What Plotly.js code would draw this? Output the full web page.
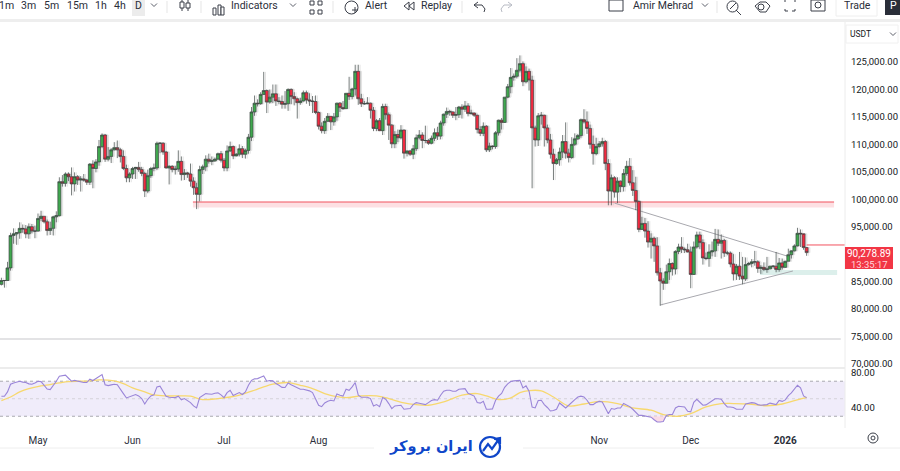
<!DOCTYPE html>
<html><head><meta charset="utf-8">
<script src="https://cdn.plot.ly/plotly-3.0.1.min.js"></script>
<style>html,body{margin:0;padding:0;background:#fff}#c{width:900px;height:471px}</style></head>
<body><div id="c"></div>
<script>
const firstDay = Date.UTC(2025,3,19);
const opens = [84500,85200,85200,87500,93400,93700,93900,94700,94600,93700,
95000,94200,94200,96500,96900,95900,94300,94700,96800,97000,
103200,102900,104600,104100,102800,104100,103500,103700,103500,103100,
106400,105600,106800,109600,111700,107300,107800,109000,109400,109000,
107800,105600,103900,104600,105600,105800,105400,104700,101500,104300,
105600,105700,110200,110200,108600,105700,106000,105400,105500,106900,
104500,104800,104600,103300,102100,100900,105400,105900,107300,106900,
107000,107300,108300,107100,105700,108800,109600,107900,108200,109200,
108200,108900,111300,115900,117500,117400,119100,119800,117700,118600,
119200,117900,117800,117300,117400,120000,118700,118300,117600,117900,
119400,118100,117900,117800,115800,113300,112500,114200,115100,114100,
115000,117500,116700,116500,119300,118700,120100,123300,118300,117400,
117400,117500,116200,112900,114300,112500,116900,115400,113500,110100,
111800,111200,112600,108400,108800,108200,109200,111200,111700,110700,
110700,110200,111100,112100,111500,113900,115500,116000,115900,115300,
115400,116800,116400,117000,115600,115700,115300,112700,112000,113300,
109000,109700,109600,112100,114400,114000,118600,120500,122200,122400,
123500,124700,121400,123300,121700,113000,110800,115200,115300,113000,
110800,108200,106500,107200,108600,110500,108400,107600,110000,111000,
111600,114500,114100,112900,110000,108300,109600,110100,110500,106500,
101500,103900,101300,103300,102300,104700,106000,103000,101600,99600,
94500,95600,94200,92200,92900,91500,86600,85100,84700,86800,
88300,87300,90500,91300,90900,90800,90400,86300,91300,93500,
92100,89300,89200,90400,90600,92700,92000,92500,90200,90200,
88200,86400,87800,86000,85500,88100,88300,88600,88600,87400,
87600,87200,87300,87800,87800,87200,88400,87600,88700,89900,
90600,91500,93800,93700,91200];
const highs = [85700,85300,88600,93900,94700,94000,95800,95400,95300,95600,
95500,95200,97400,97900,96900,96300,95900,97000,97800,104000,
104400,104900,104900,105800,104900,104400,104200,104600,103700,106600,
107100,107300,110800,112000,111900,109500,109300,110400,110700,109300,
108900,106300,104900,105900,105900,106800,105900,105000,105400,105900,
106500,110500,110400,110400,108800,106200,106200,106100,108900,107800,
105500,105000,106500,104000,103000,106100,106300,108000,108300,107800,
107600,108500,108800,107500,109800,110500,109800,108400,110000,109700,
109200,111900,116800,118900,118200,119500,123200,120000,120000,120900,
120900,118600,118900,119700,120200,120200,119500,118500,118500,119800,
119800,119300,118800,118900,116000,114000,114800,115700,115100,115700,
117600,117700,117900,119300,122300,120300,124500,124500,119200,117900,
118600,117600,116800,114600,114800,117400,117400,115800,113700,112400,
112700,113500,112700,108900,109000,109900,111800,112600,112200,113400,
111000,111600,112900,113200,114300,115600,116700,116300,116000,116800,
117000,117300,117900,117500,116300,115800,115400,113300,114000,113500,
110300,109800,112400,114500,114800,118600,121000,123900,122900,125700,
126200,125100,124200,123800,122500,113400,115700,115900,115400,113600,
111900,109200,107500,109400,111700,114000,109200,111300,112000,111900,
114700,116400,116000,113600,111600,111200,110600,111200,110800,107300,
104500,104200,104000,103400,105500,107000,107500,105300,104100,99800,
96800,96600,96000,93800,93200,93100,87500,85600,88100,89200,
88500,90700,91900,93100,91200,91900,91400,92300,94100,94100,
92700,90300,91800,92300,94600,94500,93600,92800,90600,90500,
90000,88200,90400,89500,89400,88600,89100,90600,88900,88000,
88500,89500,87900,88000,90400,89300,89200,88800,91000,90700,
91800,94800,94500,93500,91300];
const lows = [84300,83900,85100,87000,91900,91700,92800,93900,92900,92800,
93800,92900,94100,96000,95600,93400,93500,93400,95800,96900,
102300,102300,103300,100700,101400,102600,101400,103200,102600,102600,
102000,104900,106100,109300,106800,106900,106600,108900,107500,106700,
105300,103100,103100,103700,103700,105000,104200,100400,101100,103900,
105100,105300,108400,108100,105600,102700,104900,104500,105000,103400,
103500,103900,102300,100800,98200,99600,104600,105100,106500,106200,
106800,107200,106700,105100,105100,108600,107300,107800,107800,107500,
107400,108300,110600,115200,116900,117200,119000,115700,117400,117500,
117000,117300,116500,116500,116100,117300,117100,114700,117200,117800,
117400,117000,115700,115500,112700,112000,111900,114100,112600,113400,
114300,115900,116300,116500,118100,118200,118900,117200,116800,117200,
117300,114700,112400,112400,112400,111700,114500,110800,109300,109300,
110400,110900,107400,107800,107900,107300,108800,110900,109300,110200,
109900,110000,110600,110800,110900,113400,114800,115200,114800,114400,
114800,114700,115900,115100,115400,115000,112000,111500,111500,108600,
108600,109100,109200,111600,112700,113900,118400,119300,121600,122000,
123100,120600,121100,119800,102000,109600,109700,113600,109600,110200,
107400,103500,106300,106100,107500,107400,106700,107300,109700,110800,
111200,113800,111900,109200,106300,108000,109400,109600,105300,98900,
98900,100300,99300,101300,101400,104300,102500,100600,98000,94000,
94600,93000,91200,89200,88600,86100,80600,83500,84700,85300,
86100,86300,90000,90200,90200,90300,83800,86200,91000,90900,
88100,88900,87700,89600,89500,91500,89200,89500,89800,87600,
85200,85300,85300,84500,85100,87900,87600,87900,86600,86400,
86900,86600,87300,87400,86700,86800,87200,87500,88700,89200,
90500,91400,91300,90800,89700];
const closes = [85200,85200,87500,93400,93700,93900,94700,94600,93700,95000,
94200,94200,96500,96900,95900,94300,94700,96800,97000,103200,
102900,104600,104100,102800,104100,103500,103700,103500,103100,106400,
105600,106800,109600,111700,107300,107800,109000,109400,109000,107800,
105600,103900,104600,105600,105800,105400,104700,101500,104300,105600,
105700,110200,110200,108600,105700,106000,105400,105500,106900,104500,
104800,104600,103300,102100,100900,105400,105900,107300,106900,107000,
107300,108300,107100,105700,108800,109600,107900,108200,109200,108200,
108900,111300,115900,117500,117400,119100,119800,117700,118600,119200,
117900,117800,117300,117400,120000,118700,118300,117600,117900,119400,
118100,117900,117800,115800,113300,112500,114200,115100,114100,115000,
117500,116700,116500,119300,118700,120100,123300,118300,117400,117400,
117500,116200,112900,114300,112500,116900,115400,113500,110100,111800,
111200,112600,108400,108800,108200,109200,111200,111700,110700,110700,
110200,111100,112100,111500,113900,115500,116000,115900,115300,115400,
116800,116400,117000,115600,115700,115300,112700,112000,113300,109000,
109700,109600,112100,114400,114000,118600,120500,122200,122400,123500,
124700,121400,123300,121700,113000,110800,115200,115300,113000,110800,
108200,106500,107200,108600,110500,108400,107600,110000,111000,111600,
114500,114100,112900,110000,108300,109600,110100,110500,106500,101500,
103900,101300,103300,102300,104700,106000,103000,101600,99600,94500,
95600,94200,92200,92900,91500,86600,85100,84700,86800,88300,
87300,90500,91300,90900,90800,90400,86300,91300,93500,92100,
89300,89200,90400,90600,92700,92000,92500,90200,90200,88200,
86400,87800,86000,85500,88100,88300,88600,88600,87400,87600,
87200,87300,87800,87800,87200,88400,87600,88700,89900,90600,
91500,93800,93700,91200,90279];
const rsi = [52.9,52.9,57.8,66.6,68,69,70,69,68.5,67,
66.6,68,70,69.6,65.4,61,60.5,64.7,70,75.7,
76.5,76.9,73.4,70,71,70,69,68.5,68.5,72.3,
70.8,73,75.7,77.6,66,65,65.8,66.6,66,61.6,
55.9,50.9,52,54,54.8,53.2,50.2,44,49.4,53.2,
54.4,63.5,64.3,58.6,52.9,51.7,51.3,51.3,52.9,48.7,
50.2,47.9,45.6,41.8,39.5,51.3,54,55.9,55.5,55.1,
56.3,56.7,54.4,51.3,57,59.7,53.6,55.5,57,54.8,
57.8,65.4,71,72.7,73,74.6,76,70,70.8,70.4,
67.3,65.4,63,62.8,68,66,64.3,62.4,60.9,60.9,
60,59,57,50.2,42.6,41,45.2,47.1,48.3,47.5,
55.5,54,53,60.9,59.7,63.5,68.5,54,51.7,51.7,
51.7,50.2,41.8,43.3,41,51.3,49.4,44.5,38.8,41.8,
42.6,42.6,38,38,38.8,43.3,45.6,44.9,44,43.3,
45.6,47.9,49,48.3,54,58.6,59.7,59.7,58.6,58.6,
60.9,61,61.6,56.3,55,53,45.6,45,47,38,
38,38.4,48,52.9,56,63,67,69.6,70.4,71,
71,62.4,64.7,58.6,40.6,39.5,48,48.3,43.3,40,
36,36.5,38,45.2,42.6,39.5,42.6,46.4,49,52,
53,52,48.3,43.3,43.3,45.6,47,46.4,39.5,33,
38.8,38,39.5,39.5,44.5,43,41,38,34,31,
31,30.4,30.4,29,26,23.5,23.5,24,31,32,
32,39.5,41.4,40.6,40.6,35.7,35,46,49.4,46,
42.6,43,45,48,50,50,49.4,44.5,40.6,40.6,
40,38,38,38,44,45,45.6,45,43.3,42.6,
42.6,43.3,45,44.5,43.3,48,47,48.7,53.6,56.7,
60.9,65.4,62.4,53.2,51.3];
const rsiMaDays = [0,3,6,9,13,16,19,22,26,29,32,37,40,43,47,50,54,59,62,66,71,75,79,83,86,89,94,98,102,106,109,113,118,123,127,132,136,140,145,147,151,156,159,163,167,170,173,177,181,186,191,196,202,207,213,217,222,226,231,236,240,245,251,256,260,264];
const rsiMa = [47.9,52,57.8,61.6,64.7,66.2,68.1,69.6,70,70.4,71.5,70.4,67.3,62.4,57.8,54.4,53.2,53.2,52.9,49,50.2,52,55.1,59.7,63.5,66.6,68.5,65.4,61.6,55.9,52.9,51.3,53.2,53.2,50.2,45.2,43.3,42.6,46.4,49,54,55.9,53.2,49,51,57,59.3,59,52,41.8,44,47,44.5,39.5,36.9,31.9,30,33,40.6,44.5,44.5,44,42,44,47.9,51.7];
const priceTicks = [70000,75000,80000,85000,95000,100000,105000,110000,115000,120000,125000];
const rsiTicks = [40,80];
const monthTicks = ['2025-05-01','2025-06-01','2025-07-01','2025-08-01','2025-11-01','2025-12-01','2026-01-01'];
const monthLabels = ['May','Jun','Jul','Aug','Nov','Dec','<b>2026</b>'];
const toolbarLabels = [['1m',6],['3m',28],['5m',51],['15m',77],['1h',101],['4h',120],['D',138],['Indicators',254],['Alert',376],['Replay',436],['Amir Mehrad',663],['Trade',857]];

const day = i => new Date(firstDay + i*864e5).toISOString().slice(0,10);
const dates = closes.map((_,i)=>day(i));
const W=845,H=471,FONT='Roboto, "Noto Sans", sans-serif',INK='#131722';
const px=x=>x/W, py=y=>1-y/H;
const P={xref:'paper',yref:'paper'};
const ln=(x0,y0,x1,y1,c='#3a3e48',w=1)=>({type:'line',...P,x0:px(x0),x1:px(x1),y0:py(y0),y1:py(y1),line:{color:c,width:w}});
const rc=(x0,y0,x1,y1,fill,c='rgba(0,0,0,0)',w=0)=>({type:'rect',...P,x0:px(x0),x1:px(x1),y0:py(y0),y1:py(y1),fillcolor:fill,line:{color:c,width:w}});
const ci=(x0,y0,x1,y1,c='#3a3e48',w=1,fill='rgba(0,0,0,0)')=>({type:'circle',...P,x0:px(x0),x1:px(x1),y0:py(y0),y1:py(y1),fillcolor:fill,line:{color:c,width:w}});
const chev=(x,y)=>[ln(x-3,y-1.5,x,y+1.5,'#5d606b'),ln(x,y+1.5,x+3,y-1.5,'#5d606b')];
const poly=(pts,c='#3a3e48',w=1,close=false,fill='rgba(0,0,0,0)')=>{
  const d=pts.map((p,i)=>(i?'L':'M')+px(p[0])+','+py(p[1])).join(' ')+(close?' Z':'');
  return {type:'path',...P,path:d,line:{color:c,width:w},fillcolor:fill};
};

const chrome=[
  rc(0,19,900,22,'#eeeeee'),
  rc(132,0,145,16,'#ececec'),
  ...chev(154,5),
  ...[167,201,333,462,717].map(x=>ln(x,1,x,13,'#e5e5e5')),
  ln(182,0,182,11),rc(180,2,184,8,'#fff','#3a3e48',1),ln(188,0,188,11),rc(186,3,190,8,'#fff','#3a3e48',1),
  rc(213,8,216,15,'#fff','#3a3e48',1),rc(218,5,221,15,'#fff','#3a3e48',1),rc(221,7,224,15,'#fff','#3a3e48',1),
  ...chev(293,5),
  rc(310,1,314,5,'#fff','#3a3e48',1),rc(318,1,322,5,'#fff','#3a3e48',1),rc(310,10,314,14,'#fff','#3a3e48',1),rc(318,10,322,14,'#fff','#3a3e48',1),
  ci(345,1,358,14),ln(352,10,358,10),ln(355,7,355,13),
  poly([[409,2],[404,6],[409,10]],'#3a3e48',1,true),poly([[414,2],[409,6],[414,10]],'#3a3e48',1,true),
  poly([[478,2],[474,5],[478,8]]),poly([[474,5],[482,5],[485,9],[484,12]]),
  poly([[508,2],[512,5],[508,8]],'#b8bbc4'),poly([[512,5],[504,5],[501,9],[502,12]],'#b8bbc4'),
  rc(609,0,623,11,'#fff','#3a3e48',1),
  ...chev(705,5),
  ci(727,1,738,12),ln(736,10,741,15),ln(730,9,736,3),
  poly([[758,5],[763,1],[769,1],[773,5],[769,11],[763,11]].map(p=>[p[0]-3,p[1]+1]),'#3a3e48',1,true),ci(758,4,764,10),
  ln(785,0,785,2),ln(785,9,785,11),ln(795,0,795,2),ln(795,9,795,11),ln(785,11,788,11),ln(792,11,795,11),
  rc(811,0,825,11,'#fff','#3a3e48',1),ci(815,2,821,8),
  {type:'rect',...P,x0:px(836),x1:px(877),y0:py(16),y1:py(-6),line:{color:'#eeeeee',width:1},fillcolor:'#fff'},
  rc(885,-6,905,15,'#2a2e39'),
  rc(846,25,898,43,'#fff','#f0f0f0',1),...chev(893,34),
  ln(0,368,845,368,'#e6e6e6',1.5),
  ln(845,22,845,428,'#ececec',1),
  ln(0,448,374,448,'#eeeeee'),ln(523,448,900,448,'#eeeeee'),
  rc(845,247,893,269,'#f23645'),
  ci(868,433,878,443,'#3a3e48'),ci(871,436,875,440,'#3a3e48'),
  ci(480,437,500,457,'#0f46c9',2.2,'#fff'),
  poly([[483,451],[488,444],[492,449],[499,439]],'#0f46c9',2.2),poly([[494,439],[500,438],[500,444]],'#0f46c9',2.2)
];

const chartShapes=[
  {type:'rect',xref:'paper',yref:'y2',x0:0,x1:1,y0:30,y1:70,fillcolor:'#f0ecfa',line:{width:0},layer:'below'},
  {type:'line',xref:'paper',yref:'y2',x0:0,x1:1,y0:70,y1:70,line:{color:'#aaaab0',width:1,dash:'3px,3px'},layer:'below'},
  {type:'line',xref:'paper',yref:'y2',x0:0,x1:1,y0:50,y1:50,line:{color:'#d4d2da',width:1,dash:'3px,3px'},layer:'below'},
  {type:'line',xref:'paper',yref:'y2',x0:0,x1:1,y0:30,y1:30,line:{color:'#aaaab0',width:1,dash:'3px,3px'},layer:'below'},
  {type:'rect',xref:'x',yref:'y',x0:'2025-06-20 19:00',x1:'2026-01-17',y0:98500,y1:99500,fillcolor:'#fde0e3',line:{width:0},layer:'below'},
  {type:'line',xref:'x',yref:'y',x0:'2025-06-20 19:00',x1:'2026-01-17',y0:99500,y1:99500,line:{color:'#f2525f',width:1.2},layer:'below'},
  {type:'rect',xref:'x',yref:'y',x0:'2025-12-23 17:00',x1:'2026-01-18',y0:86200,y1:87100,fillcolor:'#dcefeb',line:{width:0},layer:'below'},
  {type:'line',xref:'paper',yref:'y',x0:0,x1:0.995,y0:74545,y1:74545,line:{color:'#b9b9be',width:0.8},layer:'below'},
  {type:'line',xref:'x',yref:'y',x0:'2025-11-06',x1:'2026-01-01 14:00',y0:99300,y1:89660,line:{color:'#a8a8ae',width:1},layer:'below'},
  {type:'line',xref:'x',yref:'y',x0:'2025-11-21',x1:'2026-01-03 12:00',y0:80740,y1:86930,line:{color:'#a8a8ae',width:1},layer:'below'},
  {type:'line',xref:'x',yref:'y',x0:'2026-01-08',x1:'2026-01-20 14:00',y0:91670,y1:91670,line:{color:'#f2525f',width:1},layer:'below'}
];

const ann=(t,x,y,size,color,extra={})=>({text:t,...P,x:px(x),y:py(y),xanchor:'center',yanchor:'middle',showarrow:false,font:{family:FONT,size,color},...extra});
const annotations=[
  ...toolbarLabels.map(([t,x])=>ann(t,x,5.5,10.5,'#2a2e39')),
  ann('P',893,5.5,10.5,'#ffffff'),
  ann('USDT',860,34.5,8.5,'#131722'),
  ann('90,278.89',869,253,10,'#ffffff'),
  ann('13:35:17',869,264,9.5,'#ffd9dc'),
  ann('ایران بروکر',431,446,19,'#0f46c9',{font:{family:'"DejaVu Sans", "Noto Sans", sans-serif',size:14.5,color:'#0f46c9',weight:700}})
];

const RANGE=['2025-04-18 13:00','2026-01-20 14:00'];
const GHOST_RANGE=['2025-04-17 23:00','2026-01-20 00:00'];
const ghost={type:'candlestick',x:dates,open:opens,high:highs,low:lows,close:closes,xaxis:'x2',yaxis:'y',opacity:0.2,
  increasing:{line:{color:'#777',width:1},fillcolor:'#999'},decreasing:{line:{color:'#777',width:1},fillcolor:'#999'},
  whiskerwidth:0,hoverinfo:'skip',showlegend:false};
const candles={type:'candlestick',x:dates,open:opens,high:highs,low:lows,close:closes,xaxis:'x3',yaxis:'y',
  increasing:{line:{color:'#3c4543',width:0.7},fillcolor:'#3fa84e'},decreasing:{line:{color:'#3c4543',width:0.7},fillcolor:'#f02a40'},
  whiskerwidth:0,showlegend:false};
const oversoldIdx=[212,213,214,215,216,217,218];
const oversold={type:'scatter',mode:'lines',x:[...oversoldIdx.map(i=>dates[i]),dates[218],dates[212]],y:[...oversoldIdx.map(i=>Math.min(rsi[i],30)),30,30],xaxis:'x',yaxis:'y2',fill:'toself',fillcolor:'#f9dbe6',line:{width:0},showlegend:false};
const rsiMaLine={type:'scatter',mode:'lines',x:rsiMaDays.map(day),y:rsiMa,xaxis:'x',yaxis:'y2',line:{color:'#f7d86e',width:1.3,shape:'spline'},showlegend:false};
const rsiLine={type:'scatter',mode:'lines',x:dates,y:rsi,xaxis:'x',yaxis:'y2',line:{color:'#9a85d8',width:1.1},showlegend:false};
const hiddenX=r=>({type:'date',range:r,overlaying:'x',anchor:'y',visible:false,rangeslider:{visible:false},showgrid:false,zeroline:false});

Plotly.newPlot('c',[ghost,candles,oversold,rsiMaLine,rsiLine],{
  width:900,height:H,margin:{l:0,r:900-W,t:0,b:0},paper_bgcolor:'#fff',plot_bgcolor:'rgba(0,0,0,0)',showlegend:false,boxgap:0.02,boxgroupgap:0,boxmode:'overlay',
  font:{family:FONT,size:10,color:INK},
  xaxis:{type:'date',range:RANGE,anchor:'y2',tickmode:'array',tickvals:monthTicks,ticktext:monthLabels,
    showgrid:false,zeroline:false,showline:false,ticks:'outside',ticklen:3,tickcolor:'#fff',tickfont:{size:10,color:'#2a2e39',family:FONT},rangeslider:{visible:false}},
  xaxis2:hiddenX(GHOST_RANGE),
  xaxis3:hiddenX(RANGE),
  yaxis:{domain:[py(368),py(22)],range:[125000-(368-62)/5.49*1000,125000+(62-22)/5.49*1000],side:'right',anchor:'x',tickmode:'array',tickvals:priceTicks,tickformat:',.2f',
    showgrid:false,zeroline:false,showline:false,ticks:'outside',ticklen:3,tickcolor:'#fff',tickfont:{size:9.5,color:INK,family:FONT}},
  yaxis2:{domain:[py(428),py(368)],range:[16.6,85.1],side:'right',anchor:'x',tickmode:'array',tickvals:rsiTicks,tickformat:'.2f',
    showgrid:false,zeroline:false,showline:false,ticks:'outside',ticklen:3,tickcolor:'#fff',tickfont:{size:9.5,color:INK,family:FONT}},
  shapes:[...chartShapes,...chrome],annotations
},{displayModeBar:false,staticPlot:true});
</script></body></html>
